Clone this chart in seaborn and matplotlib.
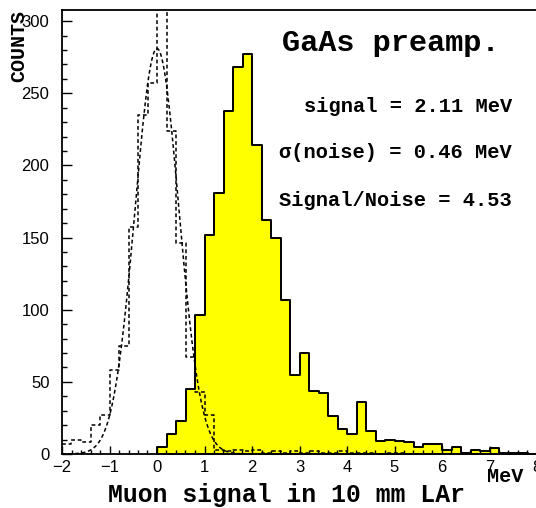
import numpy as np
import pandas as pd
import matplotlib
matplotlib.use("Agg")
import matplotlib.pyplot as plt
import seaborn as sns

# ---- data ----
bin_width = 0.2
signal_start = 0.0
signal_counts = [5, 14, 23, 45, 96, 152, 181, 238, 268, 277,
                 214, 162, 150, 107, 55, 70, 44, 42, 26, 17,
                 14, 36, 16, 9, 10, 9, 8, 5, 7, 7,
                 3, 5, 1, 3, 2, 4, 1, 1, 1, 0]

noise_start = -2.0
noise_counts = [7, 10, 8, 20, 27, 58, 75, 157, 235, 257,
                330, 224, 146, 67, 43, 27, 3, 2, 3, 2,
                3, 1, 2, 1, 2, 1, 2, 1, 1, 2,
                1, 1, 1, 0, 1, 1, 0, 0]

# gaussian fit of the noise peak
fit_amp = 281.0
fit_mean = 0.0
fit_sigma = 0.46

texts = ["GaAs preamp.", "signal = 2.11 MeV", "σ(noise) = 0.46 MeV", "Signal/Noise = 4.53"]
xlabel = "Muon signal in 10 mm LAr"
xunit = "MeV"
ylabel = "COUNTS"
x_ticks = [-2, -1, 0, 1, 2, 3, 4, 5, 6, 7, 8]
y_ticks = [0, 50, 100, 150, 200, 250, 300]

# ---- build tables ----
sig_edges = [round(signal_start + bin_width * i, 6) for i in range(len(signal_counts) + 1)]
sig_df = pd.DataFrame({"x": [e + bin_width / 2 for e in sig_edges[:-1]], "w": signal_counts})
noi_edges = [round(noise_start + bin_width * i, 6) for i in range(len(noise_counts) + 1)]
noi_df = pd.DataFrame({"x": [e + bin_width / 2 for e in noi_edges[:-1]], "w": noise_counts})
gx = np.linspace(-2.0, 2.6, 300)
fit_df = pd.DataFrame({"x": gx, "y": fit_amp * np.exp(-(gx - fit_mean) ** 2 / (2 * fit_sigma ** 2))})

W, H = 536, 508
fig = plt.figure(figsize=(W / 100, H / 100), dpi=100)
ax = fig.add_axes([62 / W, (H - 454) / H, 475 / W, 444 / H])

sns.histplot(data=sig_df, x="x", weights="w", bins=sig_edges, element="step",
             fill=True, color="#ffff00", edgecolor="black", alpha=1.0,
             linewidth=1.4, ax=ax)
sns.histplot(data=noi_df, x="x", weights="w", bins=noi_edges, element="step",
             fill=False, color="black", linewidth=1.1, linestyle=(0, (2.5, 1.8)), ax=ax)
sns.lineplot(data=fit_df, x="x", y="y", color="black", linewidth=1.1,
             linestyle=(0, (2.5, 1.8)), ax=ax)

ax.set_xlim(-2, 8)
ax.set_ylim(0, 307.7)
ax.set_xlabel("")
ax.set_ylabel("")
ax.set_xticks(x_ticks)
ax.set_xticklabels([f"{t}".replace("-", "\u2212") for t in x_ticks])
ax.set_yticks(y_ticks)
ax.set_xticks(np.arange(-2, 8.01, 0.2), minor=True)
ax.set_yticks(np.arange(0, 301, 10), minor=True)
ax.tick_params(axis="x", which="major", direction="in", length=5.5, width=1.0,
               labelsize=12, pad=4, top=False)
ax.tick_params(axis="x", which="minor", direction="in", length=3.2, width=1.0, top=False)
ax.tick_params(axis="y", which="major", direction="in", length=7, width=1.0,
               labelsize=12, pad=9, right=False)
ax.tick_params(axis="y", which="minor", direction="in", length=3.5, width=1.0, right=False)
for lab in ax.get_xticklabels() + ax.get_yticklabels():
    lab.set_fontfamily("Liberation Sans")
for s in ["left", "bottom", "top"]:
    ax.spines[s].set_linewidth(1.3)
ax.spines["right"].set_visible(False)

mono = "Liberation Mono"
fig.text(282 / W, 1 - 43 / H, texts[0], family=mono, weight="bold", fontsize=21.8,
         ha="left", va="center")
fig.text(512 / W, 1 - 107 / H, texts[1], family=mono, weight="bold", fontsize=14.7,
         ha="right", va="center")
fig.text(512 / W, 1 - 153 / H, texts[2], family=mono, weight="bold", fontsize=14.7,
         ha="right", va="center")
fig.text(512 / W, 1 - 201 / H, texts[3], family=mono, weight="bold", fontsize=14.7,
         ha="right", va="center")
fig.text(287 / W, 1 - 495 / H, xlabel, family=mono, weight="bold", fontsize=17.8,
         ha="center", va="center")
fig.text(487 / W, 1 - 477 / H, xunit, family=mono, weight="bold", fontsize=14.5,
         ha="left", va="center")
fig.text(19 / W, 1 - 46 / H, ylabel, family=mono, weight="bold", fontsize=14.4,
         ha="center", va="center", rotation=90)

fig.savefig("out.png", dpi=100)
